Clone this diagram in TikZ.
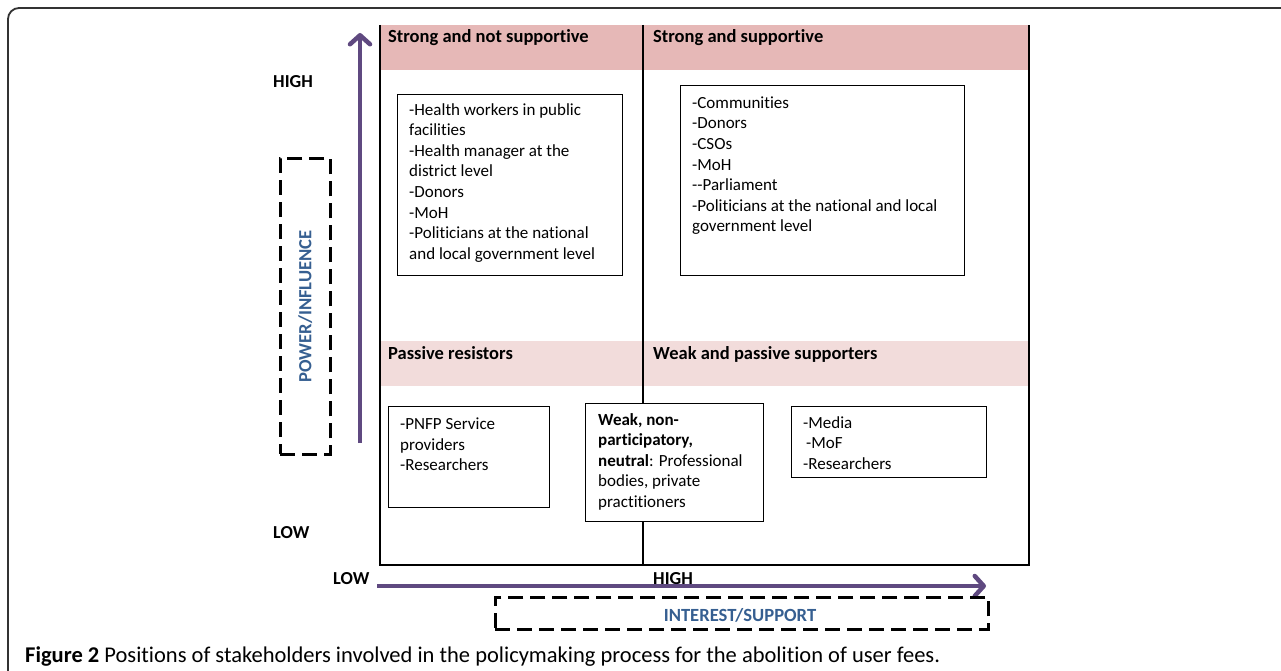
\documentclass[tikz,border=0pt]{standalone}
\usepackage{fontspec}
\setmainfont{Carlito}[Ligatures={TeX,NoCommon}]
\usetikzlibrary{arrows.meta,calc}
\definecolor{axispurple}{RGB}{95,73,128}
\definecolor{labelblue}{RGB}{54,95,145}
\definecolor{pinkdark}{RGB}{230,184,183}
\definecolor{pinklight}{RGB}{242,220,219}
\begin{document}
\begin{tikzpicture}[x=1pt,y=-1pt,
  header/.style={anchor=base west,inner sep=0pt,font=\fontsize{18.5}{22}\selectfont\bfseries},
  axislabel/.style={anchor=base west,inner sep=0pt,font=\fontsize{18.3}{22}\selectfont\bfseries},
  listbox/.style={draw=black,line width=1.1pt,anchor=north west,inner sep=0pt},
  listtext/.style={anchor=north west,inner sep=0pt,align=left,font=\fontsize{17}{20.6}\selectfont},
  axisarrow/.style={draw=axispurple,line width=4.5pt,-{Straight Barb[length=9pt,width=20pt,line width=4.5pt,round]}},
  dashbox/.style={draw=black,line width=2.7pt,dash pattern=on 15pt off 7pt,anchor=north west,inner sep=0pt},
  dashlabel/.style={inner sep=0pt,text=labelblue,font=\fontsize{18.6}{22}\selectfont\bfseries},
  quadline/.style={draw=black,line width=1.2pt}]
\useasboundingbox (0,0) rectangle (1281,671);
\clip (0,0) rectangle (1281,671);
% outer frame
\draw[line width=1.8pt,black!80,rounded corners=11pt] (8,8) rectangle (1320,700);
% pink bands
\fill[pinkdark] (380,25) rectangle (1029,70);
\fill[pinklight] (380,341) rectangle (1029,386);
% quadrant lines
\coordinate (qtl) at (380,25);
\coordinate (qbl) at (380,565);
\coordinate (qbr) at (1029,565);
\coordinate (qtr) at (1029,25);
\coordinate (qtm) at (643,25);
\coordinate (qbm) at (643,565);
\draw[quadline] (qtl) -- (qbl) -- (qbr) -- (qtr);
\draw[quadline] (qtm) -- (qbm);
% headers
\node[header] (h1) at (388,43) {Strong and not supportive};
\node[header] (h2) at (653,43) {Strong and supportive};
\node[header] (h3) at (388,359) {Passive resistors};
\node[header] (h4) at (653,359) {Weak and passive supporters};
% content boxes
\node[listbox,minimum width=225pt,minimum height=181pt] (b1) at (397,94) {};
\node[listtext] (t1) at (409,103) {-Health workers in public\\facilities\\-Health manager at the\\district level\\-Donors\\-MoH\\-Politicians at the national\\and local government level};
\node[listbox,minimum width=284pt,minimum height=190pt] (b2) at (680,85) {};
\node[listtext] (t2) at (692,96.5) {-Communities\\-Donors\\-CSOs\\-MoH\\-{}-Parliament\\-Politicians at the national and local\\government level};
\node[listbox,minimum width=161pt,minimum height=101pt] (b3) at (388,406) {};
\node[listtext] (t3) at (400,417.5) {-PNFP Service\\providers\\-Researchers};
\node[listbox,fill=white,minimum width=178pt,minimum height=118pt] (b4) at (585,403) {};
\node[listtext] (t4) at (598,413) {\textbf{Weak, non-}\\\textbf{participatory,}\\\textbf{neutral}: Professional\\bodies, private\\practitioners};
\node[listbox,minimum width=195pt,minimum height=71pt] (b5) at (791,406) {};
\node[listtext] (t5) at (803,416) {-Media\\\hspace{3pt}-MoF\\-Researchers};
% axis labels
\node[axislabel] (hiy) at (273,88) {HIGH};
\node[axislabel] (loy) at (273,538) {LOW};
\node[axislabel] (lox) at (333,584) {LOW};
\node[axislabel] (hix) at (653,584) {HIGH};
% axes
\coordinate (ya) at (360,443);
\coordinate (yb) at (360,33);
\coordinate (xa) at (377,586);
\coordinate (xb) at (986,586);
\draw[axisarrow] (ya) -- (yb);
\draw[axisarrow] (xa) -- (xb);
% dashed label boxes
\node[dashbox,minimum width=50pt,minimum height=296pt] (dy) at (279,157) {};
\node[dashlabel,rotate=90] (ly) at (dy.center) {POWER/INFLUENCE};
\node[dashbox,minimum width=493pt,minimum height=32pt] (dx) at (494,596) {};
\node[dashlabel] (lx) at (740,615) {INTEREST/SUPPORT};
% caption
\node[anchor=base west,inner sep=0pt,font=\fontsize{22.5}{26}\selectfont] (cap) at (25,662) {\textbf{Figure 2} Positions of stakeholders involved in the policymaking process for the abolition of user fees.};
\end{tikzpicture}
\end{document}
